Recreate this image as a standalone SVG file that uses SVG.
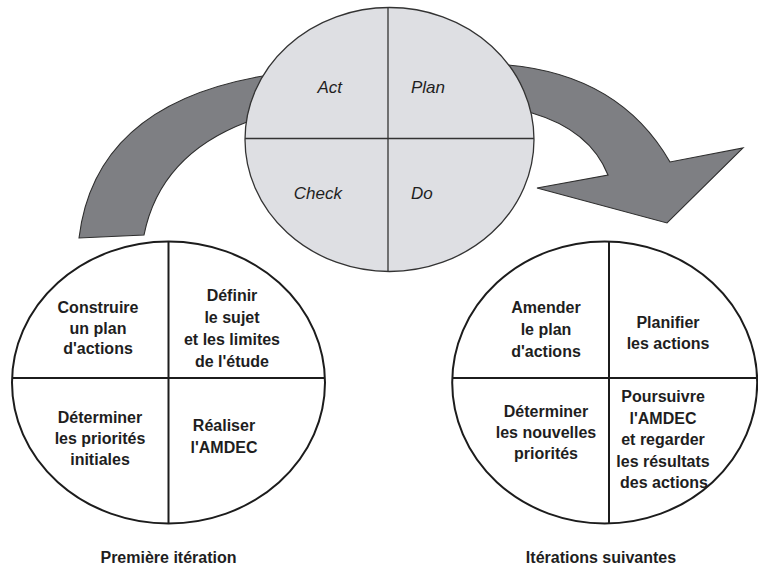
<svg xmlns="http://www.w3.org/2000/svg" width="758" height="569" viewBox="0 0 758 569">
<style>
.arrow{fill:#7e7f83;stroke:#2e2e2e;stroke-width:1.1;stroke-linejoin:miter}
.pdca{fill:#dedfe3;stroke:#333;stroke-width:1.3}
.pdcaline{stroke:#333;stroke-width:1.3;fill:none}
.iter{fill:#fff;stroke:#1c1c1c;stroke-width:2}
.iterline{stroke:#1c1c1c;stroke-width:2;fill:none}
text{font-family:"Liberation Sans",Arial,sans-serif;font-size:16px;font-weight:bold;fill:#1e1e1e}
.it{font-style:italic;font-weight:normal;font-size:17px}
.c{text-anchor:middle}
</style>
<g id="connectors">
<path class="arrow" d="M 79,238 Q 95,105 263,76 L 290,76 L 280,122 L 247,122 Q 160,155 144,235 Z"/>
<path class="arrow" d="M 508,65 Q 620,75 670,162 L 743,148 L 667,223 L 537,188 L 608,175 Q 590,130 532,113 L 500,110 L 495,70 Z"/>
</g>
<g id="pdca">
<ellipse class="pdca" cx="389.5" cy="139.5" rx="144.5" ry="132"/>
<line class="pdcaline" x1="245" y1="138.5" x2="534" y2="138.5"/>
<line class="pdcaline" x1="388" y1="7.5" x2="388" y2="271.5"/>
<text class="it" x="342" y="93" text-anchor="end">Act</text>
<text class="it" x="411" y="93">Plan</text>
<text class="it" x="342" y="199" text-anchor="end">Check</text>
<text class="it" x="411" y="199">Do</text>
</g>
<g id="premiere-iteration">
<ellipse class="iter" cx="168.5" cy="382.5" rx="156.5" ry="141"/>
<line class="iterline" x1="12" y1="378" x2="325" y2="378"/>
<line class="iterline" x1="168.5" y1="241.5" x2="168.5" y2="523.5"/>
<text class="c" x="98" y="313">Construire</text>
<text class="c" x="98" y="333.5">un plan</text>
<text class="c" x="98" y="354">d'actions</text>
<text class="c" x="232" y="301">Définir</text>
<text class="c" x="232" y="323">le sujet</text>
<text class="c" x="232" y="345">et les limites</text>
<text class="c" x="232" y="367">de l'étude</text>
<text class="c" x="100" y="423">Déterminer</text>
<text class="c" x="100" y="444">les priorités</text>
<text class="c" x="100" y="465">initiales</text>
<text class="c" x="224" y="431">Réaliser</text>
<text class="c" x="224" y="452.5">l'AMDEC</text>
<text class="c" x="168.5" y="563">Première itération</text>
</g>
<g id="iterations-suivantes">
<ellipse class="iter" cx="604.7" cy="382.5" rx="152.5" ry="141"/>
<line class="iterline" x1="452" y1="378" x2="757" y2="378"/>
<line class="iterline" x1="609" y1="241.5" x2="609" y2="523.5"/>
<text class="c" x="546" y="313">Amender</text>
<text class="c" x="546" y="335">le plan</text>
<text class="c" x="546" y="356.5">d'actions</text>
<text class="c" x="668" y="328">Planifier</text>
<text class="c" x="668" y="349">les actions</text>
<text class="c" x="546" y="416.5">Déterminer</text>
<text class="c" x="546" y="437.5">les nouvelles</text>
<text class="c" x="546" y="458.5">priorités</text>
<text class="c" x="663" y="401.5">Poursuivre</text>
<text class="c" x="663" y="424">l'AMDEC</text>
<text class="c" x="663" y="445">et regarder</text>
<text class="c" x="663" y="466.5">les résultats</text>
<text class="c" x="664" y="488">des actions</text>
<text class="c" x="601" y="563">Itérations suivantes</text>
</g>
</svg>
